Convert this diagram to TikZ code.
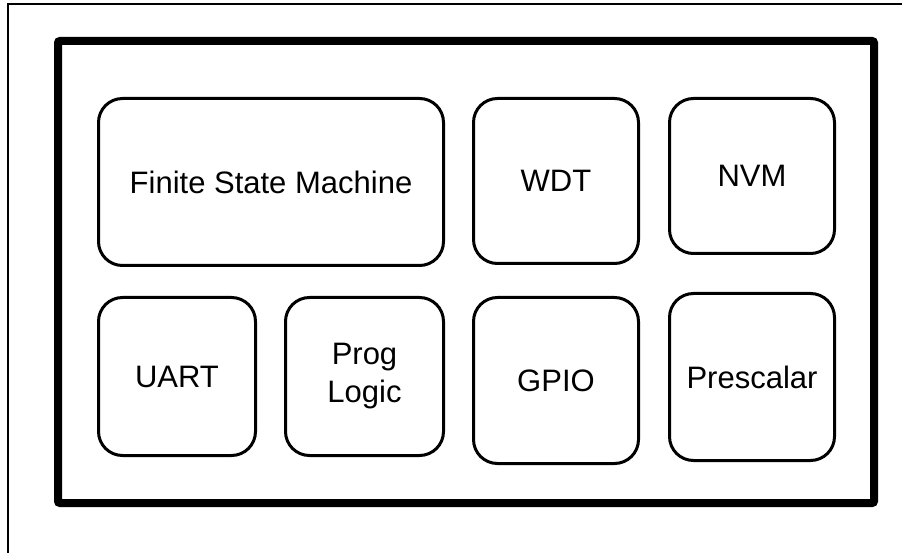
\documentclass[tikz,border=0pt]{standalone}
\usepackage{fontspec}
\setmainfont{Liberation Sans}
\usepackage{tikz}
\newcommand{\blockFont}[0]{\fontsize{31}{38}\selectfont}

\begin{document}
\begin{tikzpicture}[x=1pt, y=-1pt]
  \tikzset{block/.style={draw, line width=3pt, rounded corners=24pt, inner sep=0pt,
      align=center, font=\blockFont}}
  \useasboundingbox (0,0) rectangle (902,553);
  % frame of the page
  \draw[line width=1.5pt] (902,4) -- (8,4) -- (8,553);
  % chip outline
  \draw[line width=8pt, rounded corners=2pt] (58,41) rectangle (874,503);
  % top row
  \node[block, minimum width=345pt, minimum height=167pt] (fsm) at (271,182) {Finite State Machine};
  \node[block, minimum width=165pt, minimum height=165pt] (wdt) at (556,181) {WDT};
  \node[block, minimum width=165pt, minimum height=155pt] (nvm) at (752,176) {NVM};
  % bottom row
  \node[block, minimum width=157pt, minimum height=158pt] (uart) at (177,376.5) {UART};
  \node[block, minimum width=158pt, minimum height=158pt] (prog) at (364.5,376.5) {Prog\\Logic};
  \node[block, minimum width=165pt, minimum height=166pt] (gpio) at (556,380.5) {GPIO};
  \node[block, minimum width=165pt, minimum height=167pt] (pre) at (752,377) {Prescalar};
\end{tikzpicture}
\end{document}
